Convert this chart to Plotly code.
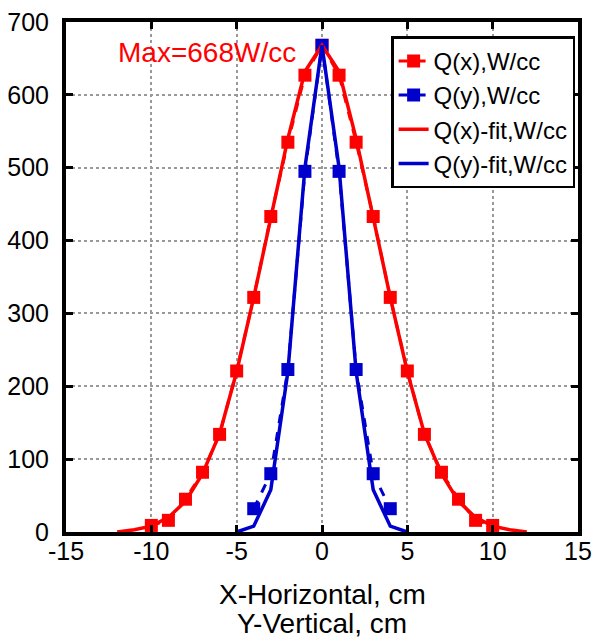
import plotly.graph_objects as go

# Measured data
pos = [-10, -9, -8, -7, -6, -5, -4, -3, -2, -1, 0, 1, 2, 3, 4, 5, 6, 7, 8, 9, 10]
qx = [9, 16, 45, 82, 134, 221, 322, 433, 535, 627, 668, 627, 535, 433, 322, 221, 134, 82, 45, 16, 9]

pos_y = [-4, -3, -2, -1, 0, 1, 2, 3, 4]
qy = [32, 80, 223, 495, 668, 495, 223, 80, 32]

fit_x_pos = [-12, -11, -10, -9, -8, -7, -6, -5, -4, -3, -2, -1, 0, 1, 2, 3, 4, 5, 6, 7, 8, 9, 10, 11, 12]
fit_x_val = [0, 3, 8, 20, 42, 80, 135, 220, 322, 432, 540, 632, 668, 632, 540, 432, 322, 220, 135, 80, 42, 20, 8, 3, 0]

fit_y_pos = [-5, -4, -3, -2, -1, 0, 1, 2, 3, 4, 5]
fit_y_val = [0, 8, 58, 220, 500, 668, 500, 220, 58, 8, 0]

x_tickvals = [-15, -10, -5, 0, 5, 10, 15]
x_ticktext = ["-15", "-10", "-5", "0", "5", "10", "15"]
y_tickvals = [0, 100, 200, 300, 400, 500, 600, 700]

RED = "#ff0000"
BLUE = "#0000cc"
FONT = "Liberation Sans, Arial, sans-serif"

fig = go.Figure()
fig.add_trace(go.Scatter(x=pos, y=qx, mode="lines+markers", name="Q(x),W/cc",
                         line=dict(color=RED, width=3, dash="dash"),
                         marker=dict(symbol="square", size=13, color=RED)))
fig.add_trace(go.Scatter(x=pos_y, y=qy, mode="lines+markers", name="Q(y),W/cc",
                         line=dict(color=BLUE, width=3, dash="dash"),
                         marker=dict(symbol="square", size=13, color=BLUE)))
fig.add_trace(go.Scatter(x=fit_x_pos, y=fit_x_val, mode="lines", name="Q(x)-fit,W/cc",
                         line=dict(color=RED, width=3.5)))
fig.add_trace(go.Scatter(x=fit_y_pos, y=fit_y_val, mode="lines", name="Q(y)-fit,W/cc",
                         line=dict(color=BLUE, width=3.5)))

fig.add_annotation(x=-6.75, y=658, text="Max=668W/cc", showarrow=False,
                   font=dict(color=RED, size=28, family=FONT), xanchor="center", yanchor="middle")

# x-axis title (two lines)
fig.add_annotation(x=0, xref="x", y=-0.122, yref="paper", text="X-Horizontal, cm",
                   showarrow=False, font=dict(size=28, color="black", family=FONT),
                   xanchor="center", yanchor="middle")
fig.add_annotation(x=0, xref="x", y=-0.180, yref="paper", text="Y-Vertical, cm",
                   showarrow=False, font=dict(size=28, color="black", family=FONT),
                   xanchor="center", yanchor="middle")

axis_common = dict(showline=True, linecolor="black", linewidth=4, mirror="allticks",
                   ticks="inside", ticklen=7, tickwidth=3, tickcolor="black",
                   showgrid=True, gridcolor="#999999", griddash="dot", gridwidth=2,
                   zeroline=False, automargin=False,
                   tickfont=dict(size=25, color="black", family=FONT))

fig.update_xaxes(range=[-15, 15], tickvals=x_tickvals, ticktext=x_ticktext,
                 ticklabelstandoff=-6, **axis_common)
fig.update_yaxes(range=[0, 700], tickvals=y_tickvals, ticklabelstandoff=8, **axis_common)

fig.update_layout(
    width=604, height=640,
    margin=dict(l=66, r=26, t=22, b=108, autoexpand=False),
    paper_bgcolor="white", plot_bgcolor="white",
    font=dict(family=FONT, color="black"),
    legend=dict(x=0.635, y=0.972, xanchor="left", yanchor="top",
                bgcolor="white", bordercolor="black", borderwidth=2.5,
                font=dict(size=24, family=FONT), tracegroupgap=0),
    showlegend=True,
)

fig.write_html("out.html", config={"displayModeBar": False},
               post_script="document.body.style.margin='0';document.body.style.overflow='hidden';")
